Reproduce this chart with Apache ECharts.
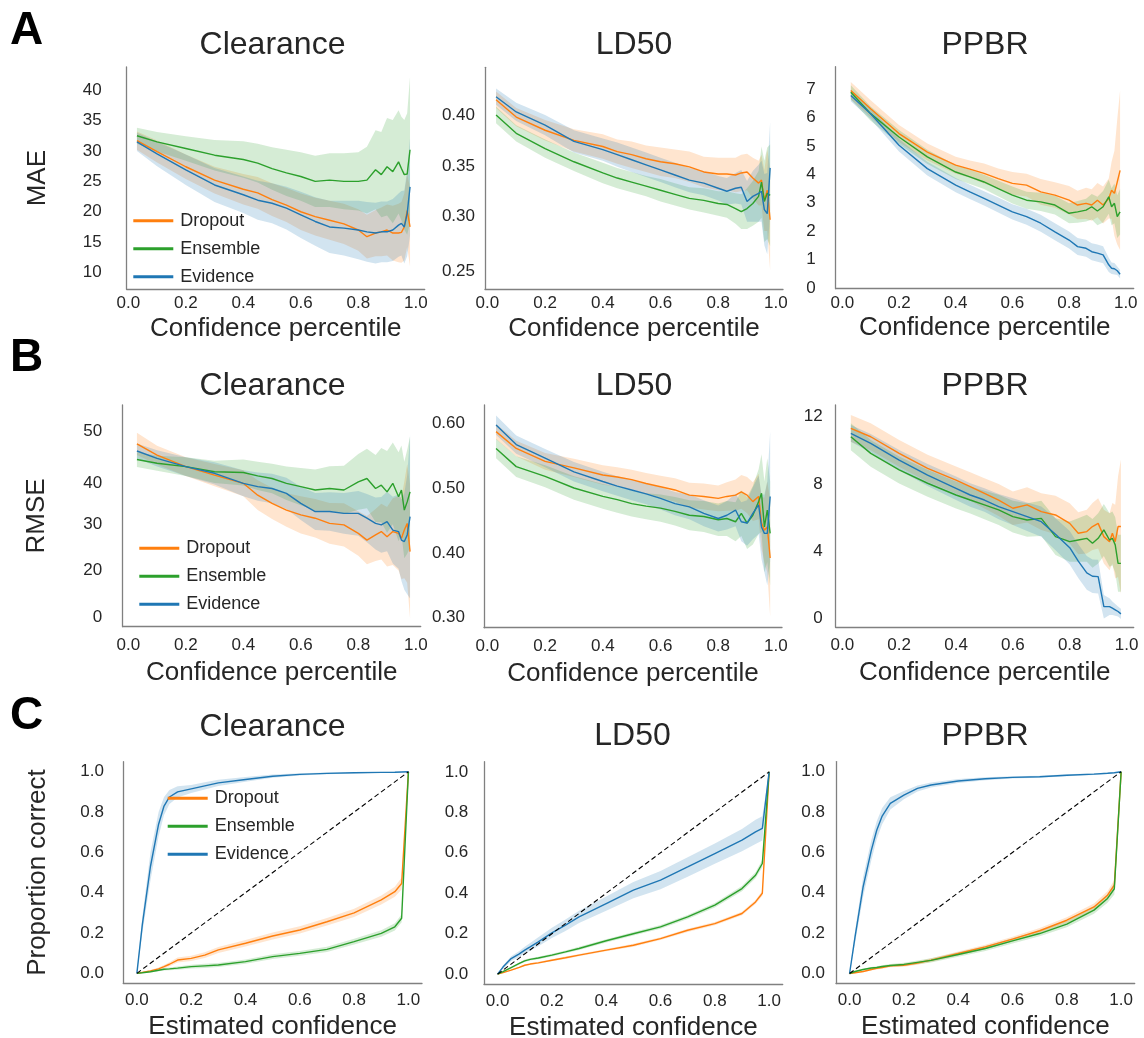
<!DOCTYPE html>
<html><head><meta charset="utf-8">
<script src="https://cdn.jsdelivr.net/npm/echarts@6/dist/echarts.min.js"></script>
<style>html,body{margin:0;padding:0;background:#fff}#main{width:1144px;height:1038px}</style>
</head><body><div id="main"></div><script>
// ---------------- DATA ----------------
const methods = ['Dropout', 'Ensemble', 'Evidence'];

// x positions (confidence percentile) shared by rows A and B
const percentileX = [0.03,0.1,0.2,0.3,0.4,0.45,0.5,0.55,0.6,0.65,0.7,0.75,0.8,0.83,0.86,0.88,0.9,0.92,0.94,0.95,0.96,0.97,0.98];
// x positions (estimated confidence) for row C
const confidenceX = [0,0.02,0.05,0.08,0.1,0.12,0.15,0.2,0.25,0.3,0.4,0.5,0.6,0.7,0.8,0.9,0.95,0.975,1.0];

// Row A: MAE
const maeClearanceDropout   = [31.7,29.9,27.4,25.2,23.7,23.1,22.0,21.1,20.0,19.2,18.6,18.0,17.0,15.9,16.5,16.7,17.0,16.5,16.5,16.6,17.5,20.2,17.5];
const maeClearanceDropoutCI = [1.5,1.8,2.0,2.2,2.5,2.6,2.7,2.8,3.0,3.1,3.2,3.3,3.4,3.6,3.8,4.0,4.2,4.5,4.8,5.0,5.5,6.0,6.5];
const maeClearanceEnsemble  = [32.5,31.5,30.4,29.3,28.6,28.0,27.1,26.4,25.8,25.0,25.2,25.0,25.0,25.2,26.9,26.1,27.4,26.6,28.2,27.1,26.1,26.2,30.2];
const maeClearanceEnsembleCI= [1.3,1.6,2.0,2.5,3.0,3.2,3.5,3.8,4.0,4.2,4.4,4.6,4.8,5.5,6.5,7.0,8.0,8.5,8.5,8.5,9.0,10,12];
const maeClearanceEvidence  = [31.5,29.5,26.9,24.4,22.8,21.9,21.4,20.6,19.5,18.4,17.5,17.3,17.0,16.7,16.5,16.7,16.7,17.0,17.8,18.1,17.5,19.7,24.1];
const maeClearanceEvidenceCI= [1.5,2.0,2.5,2.8,3.0,3.2,3.3,3.5,3.8,4.0,4.3,4.5,4.8,4.9,5.0,5.0,5.0,5.1,5.2,5.3,6.0,7.0,8.0];

const maeLD50Dropout   = [0.415,0.398,0.385,0.375,0.369,0.364,0.361,0.357,0.354,0.352,0.349,0.344,0.342,0.342,0.341,0.343,0.344,0.338,0.333,0.336,0.316,0.326,0.297];
const maeLD50DropoutCI = [0.008,0.009,0.010,0.011,0.012,0.012,0.013,0.013,0.014,0.014,0.015,0.015,0.016,0.016,0.017,0.018,0.018,0.02,0.022,0.025,0.03,0.04,0.05];
const maeLD50Ensemble  = [0.400,0.382,0.367,0.354,0.343,0.338,0.334,0.330,0.326,0.322,0.318,0.316,0.313,0.312,0.308,0.305,0.308,0.313,0.320,0.334,0.315,0.323,0.321];
const maeLD50EnsembleCI= [0.008,0.008,0.009,0.009,0.010,0.010,0.010,0.010,0.011,0.011,0.011,0.012,0.012,0.013,0.015,0.017,0.02,0.022,0.025,0.035,0.04,0.045,0.05];
const maeLD50Evidence  = [0.418,0.403,0.390,0.374,0.366,0.361,0.356,0.351,0.346,0.341,0.336,0.333,0.328,0.325,0.328,0.329,0.315,0.320,0.323,0.325,0.307,0.303,0.348];
const maeLD50EvidenceCI= [0.008,0.009,0.010,0.011,0.011,0.012,0.012,0.012,0.012,0.012,0.012,0.012,0.012,0.013,0.015,0.017,0.02,0.025,0.028,0.03,0.035,0.04,0.045];

const maePPBRDropout   = [6.94,6.30,5.43,4.78,4.32,4.18,4.03,3.85,3.68,3.62,3.38,3.27,3.09,2.92,2.98,2.92,3.09,2.92,3.15,3.44,3.33,3.73,4.14];
const maePPBRDropoutCI = [0.3,0.3,0.3,0.3,0.3,0.3,0.35,0.35,0.4,0.4,0.45,0.45,0.5,0.5,0.55,0.55,0.6,0.65,0.7,1.0,1.5,2.2,2.8];
const maePPBREnsemble  = [6.88,6.13,5.31,4.61,4.08,3.91,3.73,3.50,3.27,3.09,3.03,2.92,2.63,2.68,2.74,2.86,2.71,2.86,3.21,2.86,2.98,2.51,2.68];
const maePPBREnsembleCI= [0.25,0.25,0.25,0.25,0.25,0.25,0.25,0.27,0.3,0.3,0.32,0.33,0.35,0.38,0.4,0.45,0.5,0.55,0.6,0.65,0.7,0.75,0.8];
const maePPBREvidence  = [6.77,6.13,5.02,4.20,3.62,3.38,3.15,2.92,2.68,2.51,2.28,1.98,1.69,1.46,1.40,1.28,1.23,1.17,0.82,0.70,0.68,0.61,0.49];
const maePPBREvidenceCI= [0.2,0.2,0.22,0.24,0.25,0.25,0.25,0.26,0.27,0.28,0.3,0.3,0.3,0.3,0.3,0.3,0.3,0.3,0.25,0.2,0.2,0.15,0.15];

// Row B: RMSE
const rmseClearanceDropout   = [46.7,43.7,40.6,38.3,36.1,32.9,30.7,28.9,27.6,26.7,25.3,24.9,22.6,20.8,22.2,23.1,21.7,23.1,22.6,21.3,23.5,25.3,17.7];
const rmseClearanceDropoutCI = [3.0,2.5,2.5,3.0,3.5,4.0,4.2,4.5,5.0,5.2,5.5,5.8,6.0,6.5,7.0,7.5,8.0,9,10,11,13,16,18];
const rmseClearanceEnsemble  = [42.5,41.5,40.6,39.2,39.0,38.1,37.4,36.1,35.2,34.3,34.7,34.3,36.5,37.4,34.7,35.6,33.8,36.1,32.5,34.3,28.9,31.1,33.8];
const rmseClearanceEnsembleCI= [2.0,2.0,2.5,3.0,3.5,3.8,4.0,4.5,5.0,5.5,6.0,6.5,7.5,8.0,9.0,10,11,11,12,12,13,14,15];
const rmseClearanceEvidence  = [44.8,42.8,40.6,38.8,36.1,35.2,34.7,33.4,30.7,28.5,28.5,28.0,28.0,26.7,25.3,24.9,25.8,23.5,23.1,20.8,20.4,22.2,27.1];
const rmseClearanceEvidenceCI= [2.0,2.2,2.5,3.0,3.5,3.8,4.0,4.2,4.5,5.0,5.2,5.5,6.0,6.5,7,7.5,8,9,10,11,13,16,22];

const rmseLD50Dropout   = [0.587,0.561,0.541,0.531,0.520,0.517,0.513,0.507,0.502,0.497,0.489,0.487,0.484,0.487,0.489,0.494,0.489,0.479,0.487,0.446,0.435,0.440,0.392];
const rmseLD50DropoutCI = [0.012,0.012,0.013,0.014,0.015,0.015,0.015,0.016,0.017,0.018,0.019,0.02,0.02,0.022,0.024,0.026,0.028,0.03,0.035,0.04,0.05,0.07,0.09];
const rmseLD50Ensemble  = [0.561,0.533,0.518,0.500,0.487,0.482,0.476,0.472,0.469,0.464,0.458,0.456,0.451,0.453,0.448,0.461,0.446,0.458,0.479,0.492,0.440,0.466,0.430];
const rmseLD50EnsembleCI= [0.015,0.016,0.017,0.018,0.019,0.02,0.02,0.02,0.021,0.022,0.023,0.024,0.025,0.027,0.03,0.035,0.04,0.045,0.05,0.06,0.07,0.08,0.08];
const rmseLD50Evidence  = [0.597,0.567,0.546,0.525,0.510,0.503,0.497,0.491,0.484,0.476,0.471,0.461,0.453,0.458,0.466,0.448,0.446,0.461,0.474,0.440,0.430,0.430,0.487];
const rmseLD50EvidenceCI= [0.015,0.014,0.014,0.015,0.015,0.015,0.016,0.016,0.017,0.018,0.019,0.02,0.02,0.022,0.025,0.03,0.035,0.04,0.045,0.05,0.06,0.08,0.1];

const rmsePPBRDropout   = [11.31,10.81,9.82,8.93,8.23,7.84,7.44,7.04,6.55,6.75,6.35,6.15,5.65,5.06,5.16,5.46,5.65,4.86,4.56,5.06,4.56,5.46,5.46];
const rmsePPBRDropoutCI = [0.8,0.8,0.8,0.8,0.8,0.85,0.9,0.95,1.0,1.05,1.1,1.15,1.2,1.25,1.3,1.4,1.5,1.6,1.7,1.8,2.2,3.0,4.0];
const rmsePPBREnsemble  = [10.81,9.82,8.83,8.04,7.34,7.04,6.75,6.45,6.05,5.85,5.95,4.86,4.56,4.66,4.76,4.46,4.76,5.26,4.66,4.76,4.37,3.27,3.27];
const rmsePPBREnsembleCI= [0.8,0.8,0.8,0.8,0.8,0.8,0.85,0.9,0.95,1.0,1.05,1.1,1.2,1.3,1.4,1.45,1.5,1.55,1.6,1.6,1.65,1.7,1.7];
const rmsePPBREvidence  = [11.01,10.42,9.42,8.53,7.74,7.34,7.04,6.65,6.35,6.05,5.75,5.0,4.2,3.4,2.7,2.5,2.48,0.69,0.69,0.60,0.50,0.40,0.26];
const rmsePPBREvidenceCI= [0.5,0.55,0.6,0.65,0.7,0.7,0.7,0.75,0.8,0.85,0.9,0.95,1.0,1.0,1.0,1.0,1.0,0.7,0.5,0.4,0.35,0.3,0.3];

// Row C: calibration (proportion correct)
const calClearanceDropout   = [0,0.005,0.012,0.022,0.033,0.045,0.066,0.074,0.09,0.116,0.149,0.185,0.215,0.256,0.30,0.364,0.405,0.446,1.0];
const calClearanceDropoutCI = [0,0.003,0.005,0.007,0.008,0.01,0.012,0.013,0.014,0.015,0.016,0.017,0.018,0.019,0.02,0.022,0.025,0.03,0];
const calClearanceEnsemble  = [0,0.003,0.008,0.015,0.02,0.022,0.026,0.033,0.037,0.041,0.058,0.083,0.099,0.119,0.157,0.198,0.231,0.273,1.0];
const calClearanceEnsembleCI= [0,0.002,0.004,0.005,0.006,0.007,0.008,0.009,0.01,0.01,0.011,0.012,0.012,0.013,0.014,0.016,0.018,0.02,0];
const calClearanceEvidence  = [0,0.24,0.53,0.74,0.83,0.875,0.90,0.915,0.93,0.945,0.962,0.978,0.987,0.992,0.995,0.997,0.998,0.999,1.0];
const calClearanceEvidenceCI= [0,0.04,0.07,0.06,0.045,0.035,0.028,0.02,0.018,0.015,0.012,0.008,0.006,0.004,0.003,0.002,0.002,0.001,0];

const calLD50Dropout   = [0,0.008,0.02,0.034,0.044,0.05,0.056,0.069,0.081,0.094,0.119,0.143,0.176,0.217,0.25,0.30,0.357,0.40,1.0];
const calLD50DropoutCI = [0,0.002,0.003,0.004,0.004,0.005,0.005,0.005,0.006,0.006,0.006,0.007,0.007,0.008,0.008,0.009,0.01,0.012,0];
const calLD50Ensemble  = [0,0.013,0.033,0.053,0.066,0.073,0.080,0.094,0.11,0.127,0.165,0.20,0.234,0.283,0.341,0.423,0.489,0.547,1.0];
const calLD50EnsembleCI= [0,0.003,0.004,0.005,0.006,0.006,0.006,0.007,0.007,0.008,0.008,0.009,0.009,0.01,0.011,0.013,0.015,0.018,0];
const calLD50Evidence  = [0,0.035,0.077,0.10,0.119,0.135,0.16,0.204,0.242,0.283,0.349,0.415,0.465,0.53,0.596,0.662,0.703,0.72,1.0];
const calLD50EvidenceCI= [0,0.008,0.012,0.015,0.017,0.019,0.022,0.025,0.028,0.03,0.035,0.04,0.045,0.048,0.05,0.055,0.06,0.06,0];

const calPPBRDropout   = [0,0.004,0.01,0.02,0.026,0.03,0.038,0.041,0.052,0.066,0.099,0.132,0.17,0.212,0.264,0.33,0.388,0.438,1.0];
const calPPBRDropoutCI = [0,0.003,0.004,0.005,0.006,0.006,0.007,0.008,0.008,0.009,0.01,0.011,0.012,0.013,0.015,0.017,0.02,0.025,0];
const calPPBREnsemble  = [0,0.01,0.02,0.027,0.03,0.035,0.04,0.045,0.055,0.065,0.094,0.124,0.162,0.198,0.245,0.314,0.372,0.42,1.0];
const calPPBREnsembleCI= [0,0.003,0.004,0.005,0.006,0.006,0.007,0.008,0.009,0.01,0.011,0.012,0.013,0.014,0.016,0.018,0.022,0.028,0];
const calPPBREvidence  = [0,0.18,0.43,0.61,0.71,0.78,0.843,0.884,0.917,0.934,0.954,0.965,0.972,0.975,0.982,0.988,0.992,0.995,1.0];
const calPPBREvidenceCI= [0,0.03,0.05,0.05,0.045,0.04,0.03,0.02,0.015,0.012,0.01,0.008,0.006,0.005,0.005,0.004,0.003,0.002,0];

// perfect-calibration reference
const diagonalX = [0, 1];
const diagonalY = [0, 1];

// tick values and labels
const unitTicks = [0, 0.2, 0.4, 0.6, 0.8, 1.0];
const unitTickText = ['0.0', '0.2', '0.4', '0.6', '0.8', '1.0'];
const maeClearanceTicks = [10, 15, 20, 25, 30, 35, 40];
const maeClearanceTickText = ['10', '15', '20', '25', '30', '35', '40'];
const maeLD50Ticks = [0.246, 0.30, 0.35, 0.40];
const maeLD50TickText = ['0.25', '0.30', '0.35', '0.40'];
const maePPBRTicks = [0, 1, 2, 3, 4, 5, 6, 7];
const maePPBRTickText = ['0', '1', '2', '3', '4', '5', '6', '7'];
const rmseClearanceTicks = [0, 12.6, 25.1, 36.1, 50];
const rmseClearanceTickText = ['0', '20', '30', '40', '50'];
const rmseLD50Ticks = [0.30, 0.40, 0.50, 0.60];
const rmseLD50TickText = ['0.30', '0.40', '0.50', '0.60'];
const rmsePPBRTicks = [0, 4, 8, 12];
const rmsePPBRTickText = ['0', '4', '8', '12'];

// ---------------- STYLE / LAYOUT ----------------
const FONT = '"Liberation Sans", Arial, Helvetica, sans-serif';
const TEXT = '#262626';
const AXIS = '#808080';
const methodColors = ['#ff7f0e', '#2ca02c', '#1f77b4'];
const bandColors = ['rgba(255,127,14,0.2)', 'rgba(44,160,44,0.2)', 'rgba(31,119,180,0.2)'];

const panels = [
  {title:'Clearance', x:percentileX, mean:[maeClearanceDropout,maeClearanceEnsemble,maeClearanceEvidence], ci:[maeClearanceDropoutCI,maeClearanceEnsembleCI,maeClearanceEvidenceCI], yt:maeClearanceTicks, ytt:maeClearanceTickText, xt:unitTicks, xtt:unitTickText},
  {title:'LD50', x:percentileX, mean:[maeLD50Dropout,maeLD50Ensemble,maeLD50Evidence], ci:[maeLD50DropoutCI,maeLD50EnsembleCI,maeLD50EvidenceCI], yt:maeLD50Ticks, ytt:maeLD50TickText, xt:unitTicks, xtt:unitTickText},
  {title:'PPBR', x:percentileX, mean:[maePPBRDropout,maePPBREnsemble,maePPBREvidence], ci:[maePPBRDropoutCI,maePPBREnsembleCI,maePPBREvidenceCI], yt:maePPBRTicks, ytt:maePPBRTickText, xt:unitTicks, xtt:unitTickText},
  {title:'Clearance', x:percentileX, mean:[rmseClearanceDropout,rmseClearanceEnsemble,rmseClearanceEvidence], ci:[rmseClearanceDropoutCI,rmseClearanceEnsembleCI,rmseClearanceEvidenceCI], yt:rmseClearanceTicks, ytt:rmseClearanceTickText, xt:unitTicks, xtt:unitTickText},
  {title:'LD50', x:percentileX, mean:[rmseLD50Dropout,rmseLD50Ensemble,rmseLD50Evidence], ci:[rmseLD50DropoutCI,rmseLD50EnsembleCI,rmseLD50EvidenceCI], yt:rmseLD50Ticks, ytt:rmseLD50TickText, xt:unitTicks, xtt:unitTickText},
  {title:'PPBR', x:percentileX, mean:[rmsePPBRDropout,rmsePPBREnsemble,rmsePPBREvidence], ci:[rmsePPBRDropoutCI,rmsePPBREnsembleCI,rmsePPBREvidenceCI], yt:rmsePPBRTicks, ytt:rmsePPBRTickText, xt:unitTicks, xtt:unitTickText},
  {title:'Clearance', x:confidenceX, mean:[calClearanceDropout,calClearanceEnsemble,calClearanceEvidence], ci:[calClearanceDropoutCI,calClearanceEnsembleCI,calClearanceEvidenceCI], yt:unitTicks, ytt:unitTickText, xt:unitTicks, xtt:unitTickText, diag:true},
  {title:'LD50', x:confidenceX, mean:[calLD50Dropout,calLD50Ensemble,calLD50Evidence], ci:[calLD50DropoutCI,calLD50EnsembleCI,calLD50EvidenceCI], yt:unitTicks, ytt:unitTickText, xt:unitTicks, xtt:unitTickText, diag:true},
  {title:'PPBR', x:confidenceX, mean:[calPPBRDropout,calPPBREnsemble,calPPBREvidence], ci:[calPPBRDropoutCI,calPPBREnsembleCI,calPPBREvidenceCI], yt:unitTicks, ytt:unitTickText, xt:unitTicks, xtt:unitTickText, diag:true}
];

const layout = [
  {left:126.7, top:67,    w:298,   h:222.3, xMin:-0.0056, xMax:1.031, yMin:7.25,  yMax:43.8,  ym:25,   xm:6,   titleX:272.5, titleY:45},
  {left:485,   top:67.3,  w:298,   h:222,   xMin:-0.0083, xMax:1.0246,yMin:0.2286,yMax:0.4469,ym:10,   xm:6,   titleX:634,   titleY:45},
  {left:835.7, top:66.7,  w:298,   h:222,   xMin:-0.0233, xMax:1.028, yMin:-0.02, yMax:7.78,  ym:20,   xm:6,   titleX:985,   titleY:45},
  {left:122.7, top:405,   w:298,   h:221.7, xMin:-0.0195, xMax:1.017, yMin:-2.53, yMax:57.2,  ym:20.6, xm:10,  titleX:272.5, titleY:386},
  {left:484,   top:405,   w:298,   h:222.7, xMin:-0.0118, xMax:1.021, yMin:0.2846,yMax:0.628, ym:19,   xm:10,  titleX:634,   titleY:386},
  {left:835.7, top:405,   w:298,   h:222.3, xMin:-0.0232, xMax:1.025, yMin:-0.54, yMax:12.7,  ym:13,   xm:10,  titleX:985,   titleY:386},
  {left:123.3, top:761.7, w:298.7, h:221.7, xMin:-0.05,   xMax:1.05,  yMin:-0.05, yMax:1.05,  ym:19.3, xm:8.5, titleX:272.5, titleY:727.5},
  {left:484,   top:761.7, w:298.7, h:222.6, xMin:-0.05,   xMax:1.05,  yMin:-0.05, yMax:1.05,  ym:15.7, xm:8.5, titleX:632.5, titleY:736},
  {left:836,   top:761.6, w:298.7, h:222,   xMin:-0.05,   xMax:1.05,  yMin:-0.05, yMax:1.05,  ym:11,   xm:8.5, titleX:985,   titleY:736}
];
const rowXName = ['Confidence percentile', 'Confidence percentile', 'Estimated confidence'];
const rowXNameGap = [26.5, 33, 30.5];
const rowYName = ['MAE', 'RMSE', 'Proportion correct'];
const rowYNameGap = [76, 72.7, 72.8];
const panelLetters = [['A', 26.5, 31.5], ['B', 26.5, 358.5], ['C', 26.7, 716]];
const legendPos = [[133.3, 211.7], [139.3, 539.3], [167.7, 789.3]];

// ---------------- BUILD ----------------
function labelFormatter(vals, texts) {
  return function (v) {
    for (let k = 0; k < vals.length; k++) if (Math.abs(vals[k] - v) < 1e-6) return texts[k];
    return '';
  };
}
function bandRenderer(fill) {
  return function (params, api) {
    if (params.dataIndexInside !== 0) return null;
    const n = params.dataInsideLength;
    const upper = [], lower = [];
    for (let k = 0; k < n; k++) {
      upper.push(api.coord([api.value(0, k), api.value(2, k)]));
      lower.push(api.coord([api.value(0, k), api.value(1, k)]));
    }
    return {type:'polygon', silent:true, shape:{points:upper.concat(lower.reverse())}, style:{fill:fill, stroke:null}};
  };
}

const grids = [], xAxes = [], yAxes = [], series = [], graphics = [], legends = [];
panels.forEach((p, i) => {
  const L = layout[i];
  const row = Math.floor(i / 3), col = i % 3;
  grids.push({left:L.left, top:L.top, width:L.w, height:L.h, containLabel:false, outerBoundsMode:'none'});
  xAxes.push({
    type:'value', gridIndex:i, min:L.xMin, max:L.xMax,
    axisLine:{show:true, onZero:false, lineStyle:{color:AXIS, width:1.3}},
    axisTick:{show:false}, splitLine:{show:false},
    axisLabel:{customValues:p.xt, formatter:labelFormatter(p.xt, p.xtt), margin:L.xm, fontSize:17, color:TEXT, fontFamily:FONT},
    name:rowXName[row], nameLocation:'middle', nameGap:rowXNameGap[row], nameMoveOverlap:false,
    nameTextStyle:{fontSize:26, color:TEXT, fontFamily:FONT}
  });
  const ya = {
    type:'value', gridIndex:i, min:L.yMin, max:L.yMax,
    axisLine:{show:true, onZero:false, lineStyle:{color:AXIS, width:1.3}},
    axisTick:{show:false}, splitLine:{show:false},
    axisLabel:{customValues:p.yt, formatter:labelFormatter(p.yt, p.ytt), margin:L.ym, fontSize:17, color:TEXT, fontFamily:FONT}
  };
  if (col === 0) {
    Object.assign(ya, {name:rowYName[row], nameLocation:'middle', nameGap:rowYNameGap[row], nameMoveOverlap:false,
      nameTextStyle:{fontSize:26, color:TEXT, fontFamily:FONT}});
  }
  yAxes.push(ya);

  methods.forEach((m, j) => {
    const mean = p.mean[j], ci = p.ci[j];
    series.push({type:'custom', name:m + ' CI', xAxisIndex:i, yAxisIndex:i, clip:true, silent:true,
      renderItem:bandRenderer(bandColors[j]), encode:{x:0, y:[1, 2]},
      data:p.x.map((xv, k) => [xv, mean[k] - ci[k], mean[k] + ci[k]]), z:1});
  });
  methods.forEach((m, j) => {
    const mean = p.mean[j], color = methodColors[j];
    series.push({type:'line', name:m, xAxisIndex:i, yAxisIndex:i,
      data:p.x.map((xv, k) => [xv, mean[k]]), symbol:'none', silent:true,
      lineStyle:{color:color, width:1.4}, itemStyle:{color:color}, z:3});
  });
  if (p.diag) {
    series.push({type:'line', name:'diagonal', xAxisIndex:i, yAxisIndex:i,
      data:diagonalX.map((xv, k) => [xv, diagonalY[k]]), symbol:'none', silent:true,
      lineStyle:{color:'#000', width:1.1, type:[5, 3]}, z:4});
  }
  graphics.push({type:'text', x:L.titleX, y:L.titleY, silent:true,
    style:{text:p.title, font:'32px ' + FONT, fill:TEXT, textAlign:'center', textVerticalAlign:'middle'}});
});

panelLetters.forEach(([t, x, y]) => {
  graphics.push({type:'text', x:x, y:y, silent:true,
    style:{text:t, font:'bold 46px ' + FONT, fill:'#000', textAlign:'center', textVerticalAlign:'middle'}});
});

legendPos.forEach(([lx, ly]) => {
  legends.push({data:methods, orient:'vertical', left:lx, top:ly, padding:0, itemGap:10,
    itemWidth:40, itemHeight:3, icon:'rect', selectedMode:false,
    textStyle:{fontSize:18, color:TEXT, fontFamily:FONT, padding:[0, 0, 0, 2]}});
});

const chart = echarts.init(document.getElementById('main'), null, {renderer:'canvas', width:1144, height:1038});
chart.setOption({
  animation:false,
  backgroundColor:'#fff',
  grid:grids, xAxis:xAxes, yAxis:yAxes, series:series,
  legend:legends, graphic:graphics
});
</script></body></html>
